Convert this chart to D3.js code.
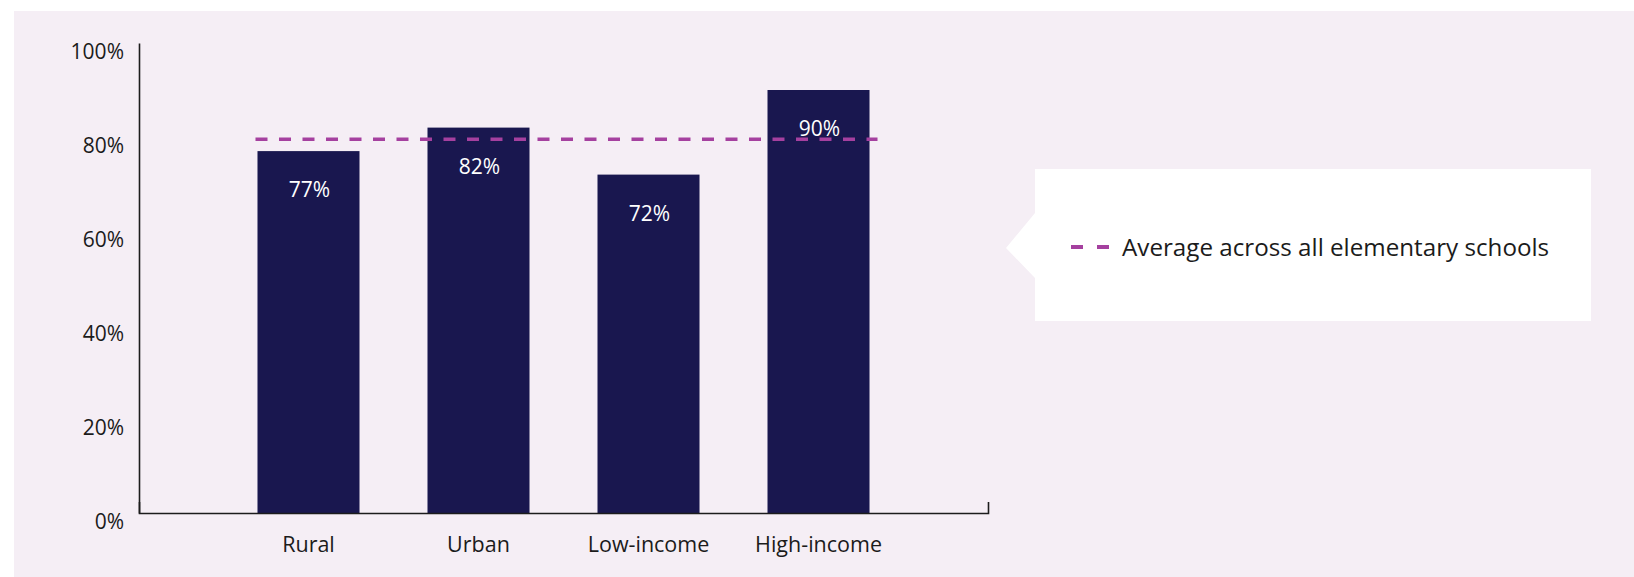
<!DOCTYPE html>
<html>
<head>
<meta charset="utf-8">
<script src="https://cdn.jsdelivr.net/npm/d3@7"></script>
<style>
  html, body { margin: 0; padding: 0; background: #ffffff; }
  svg { display: block; font-family: "Open Sans", "Noto Sans", sans-serif; }
</style>
</head>
<body>
<svg id="chart" width="1634" height="577"></svg>
<script>
// Share of elementary schools, by school type
const categories = ["Rural", "Urban", "Low-income", "High-income"];
const values = [77, 82, 72, 90];
const averageValue = 79.5;
const yTicks = [0, 20, 40, 60, 80, 100];
const legendLabel = "Average across all elementary schools";

const svg = d3.select("#chart");
const W = 1634, H = 577;

const colors = {
  panel: "#f5eef5",
  bar: "#19174f",
  avg: "#a5409f",
  axis: "#1c1c1c",
  text: "#1b1b1b"
};

// panel background
svg.append("rect")
  .attr("x", 14).attr("y", 11)
  .attr("width", W - 14).attr("height", H - 11)
  .attr("fill", colors.panel);

const plot = { left: 139, right: 988, top: 43, bottom: 513 };

const x = d3.scaleBand()
  .domain(categories)
  .range([plot.left, plot.right])
  .paddingInner(0.4)
  .paddingOuter(0.697);

const y = d3.scaleLinear()
  .domain([0, 100])
  .range([plot.bottom, plot.top]);

// bars
svg.append("g")
  .selectAll("rect")
  .data(categories)
  .join("rect")
  .attr("x", d => x(d))
  .attr("y", (d, i) => y(values[i]))
  .attr("width", x.bandwidth())
  .attr("height", (d, i) => y(0) - y(values[i]))
  .attr("fill", colors.bar);

// value labels inside bars
svg.append("g")
  .selectAll("text")
  .data(categories)
  .join("text")
  .attr("x", d => x(d) + x.bandwidth() / 2 + 1)
  .attr("y", (d, i) => y(values[i]) + 46)
  .attr("text-anchor", "middle")
  .attr("fill", "#ffffff")
  .style("font-size", "21px")
  .text((d, i) => values[i] + "%");

// average reference line
svg.append("line")
  .attr("x1", x(categories[0]) - 2)
  .attr("x2", x(categories[categories.length - 1]) + x.bandwidth() + 8)
  .attr("y1", y(averageValue))
  .attr("y2", y(averageValue))
  .attr("stroke", colors.avg)
  .attr("stroke-width", 3.5)
  .attr("stroke-dasharray", "12,11.5");

// y axis
const yAxis = svg.append("g")
  .attr("transform", `translate(${plot.left},0)`)
  .call(d3.axisLeft(y).tickValues(yTicks).tickSize(0).tickPadding(15)
    .tickFormat(d => d + "%"));
yAxis.select(".domain").attr("stroke", colors.axis).attr("stroke-width", 1.6);
yAxis.selectAll("text")
  .attr("dy", "0.76em")
  .attr("fill", colors.text)
  .style("font-size", "21px")
  .style("font-family", "'Open Sans', sans-serif");

// x axis
const xAxis = svg.append("g")
  .attr("transform", `translate(0,${plot.bottom})`)
  .call(d3.axisBottom(x).tickSizeInner(0).tickSizeOuter(-11).tickPadding(24));
xAxis.select(".domain").attr("stroke", colors.axis).attr("stroke-width", 1.6);
xAxis.selectAll("text")
  .attr("fill", colors.text)
  .style("font-size", "21.5px")
  .style("font-family", "'Open Sans', sans-serif");

// legend callout
const legend = svg.append("g");
legend.append("path")
  .attr("d", "M1035,169 H1591 V321 H1035 V278 L1006,248 L1035,213 Z")
  .attr("fill", "#ffffff");
legend.append("line")
  .attr("x1", 1071).attr("x2", 1109)
  .attr("y1", 247).attr("y2", 247)
  .attr("stroke", colors.avg)
  .attr("stroke-width", 4)
  .attr("stroke-dasharray", "12,14");
legend.append("text")
  .attr("x", 1122).attr("y", 256)
  .attr("fill", colors.text)
  .style("font-size", "24.2px")
  .text(legendLabel);
</script>
</body>
</html>
